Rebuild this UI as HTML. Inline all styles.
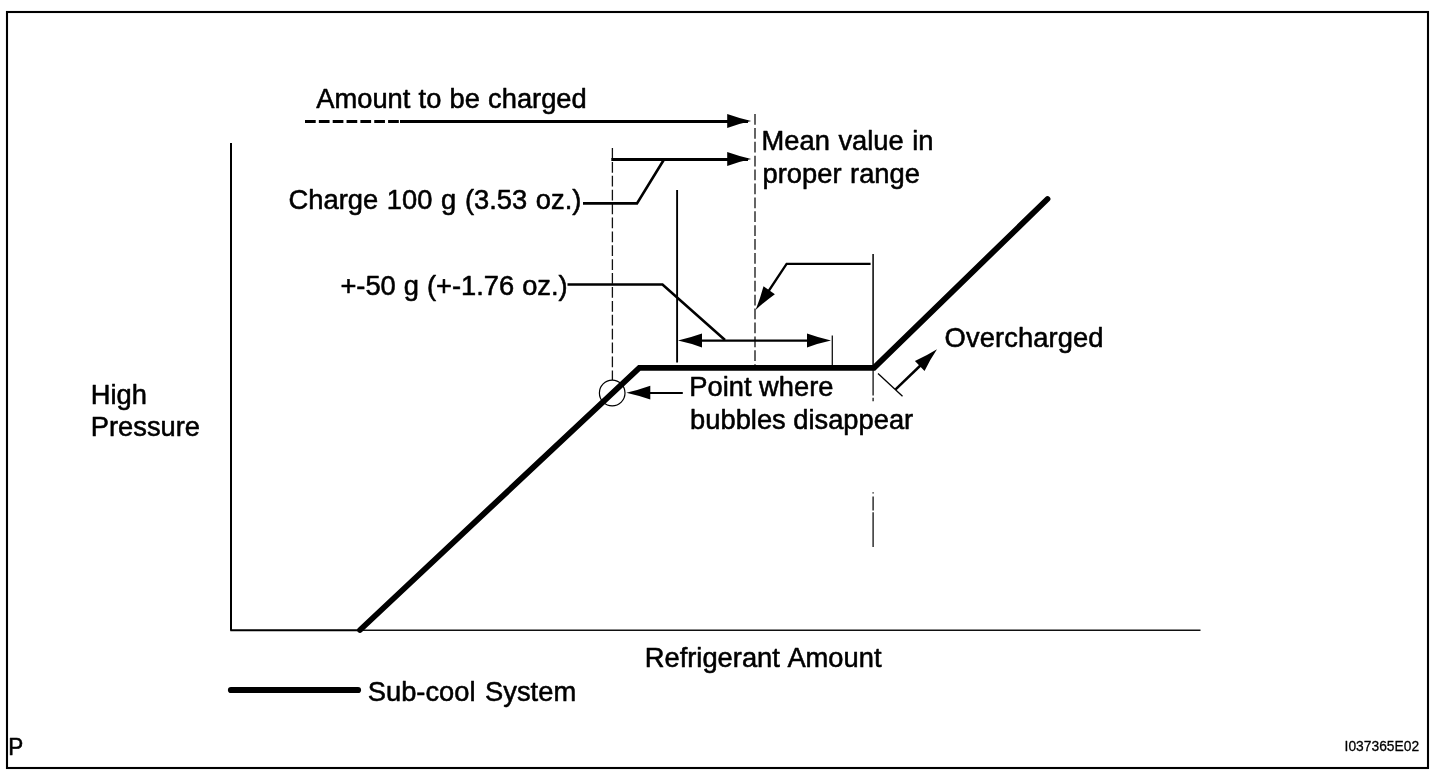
<!DOCTYPE html>
<html lang="en">
<head>
<meta charset="utf-8">
<title>Refrigerant Charge Diagram</title>
<style>
html,body{margin:0;padding:0;background:#fff;}
body{width:1456px;height:776px;overflow:hidden;position:relative;font-family:"Liberation Sans",Arial,sans-serif;}
svg{position:absolute;left:0;top:0;display:block;}
text{font-family:"Liberation Sans",Arial,sans-serif;fill:#000;stroke:#000;stroke-width:0.55px;stroke-linejoin:round;}
.t{font-size:27.3px;}
</style>
</head>
<body>
<svg width="1456" height="776" viewBox="0 0 1456 776">
  <defs>
    <path id="ah" d="M0,0 Q-12,-2.6 -24,-6.9 L-24,6.9 Q-12,2.6 0,0 Z"/>
  </defs>
  <rect x="0" y="0" width="1456" height="776" fill="#fff"/>
  <!-- outer frame -->
  <rect x="7" y="12" width="1421" height="756" fill="none" stroke="#000" stroke-width="2.1"/>

  <!-- axes -->
  <line x1="231" y1="143" x2="231" y2="630.5" stroke="#000" stroke-width="2"/>
  <line x1="230.3" y1="630.2" x2="360" y2="630.2" stroke="#000" stroke-width="2"/>
  <line x1="360" y1="630.2" x2="1200.5" y2="630.2" stroke="#111" stroke-width="1.4"/>

  <!-- vertical reference lines -->
  <g stroke="#111" stroke-width="1.3" fill="none" stroke-dasharray="10.75 3.15">
    <line x1="612.4" y1="148" x2="612.4" y2="380"/>
    <line x1="755" y1="114" x2="755" y2="365"/>
    <line x1="873.1" y1="254" x2="873.1" y2="365.5" stroke-dasharray="none" stroke-width="1.6"/>
    <line x1="873.1" y1="370" x2="873.1" y2="401.3" stroke-dasharray="25.5 2.3 4 3"/>
    <line x1="873.1" y1="492.3" x2="873.1" y2="547" stroke-dasharray="1.2 3 14 1.8 40"/>
  </g>
  <line x1="677.1" y1="190" x2="677.1" y2="362.5" stroke="#000" stroke-width="1.9"/>
  <line x1="832.3" y1="335.4" x2="832.3" y2="365" stroke="#111" stroke-width="1.3"/>

  <!-- amount to be charged arrow -->
  <line x1="305" y1="121.5" x2="401" y2="121.5" stroke="#000" stroke-width="3" stroke-dasharray="10.7 3.15"/>
  <line x1="400" y1="121.5" x2="748" y2="121.5" stroke="#000" stroke-width="3"/>
  <use href="#ah" transform="translate(751.2,121)"/>

  <!-- charge 100 g arrow -->
  <line x1="611.3" y1="159.4" x2="748" y2="159.4" stroke="#000" stroke-width="3"/>
  <use href="#ah" transform="translate(751.2,159)"/>
  <polyline points="583,203.4 637,203.4 664,159.5" fill="none" stroke="#000" stroke-width="2.6"/>

  <!-- +-50 g leader -->
  <polyline points="567.5,284.5 662.5,284.5 725,340" fill="none" stroke="#000" stroke-width="2.6"/>

  <!-- double arrow -->
  <line x1="695" y1="340.6" x2="815" y2="340.6" stroke="#000" stroke-width="2.3"/>
  <use href="#ah" transform="translate(678,340.5) rotate(180)"/>
  <use href="#ah" transform="translate(831,340.5)"/>

  <!-- proper range leader arrow -->
  <polyline points="870.6,263.8 786.6,263.8 764,298" fill="none" stroke="#000" stroke-width="2.3"/>
  <use href="#ah" transform="translate(755.6,310) rotate(124.5)"/>

  <!-- main curve -->
  <polyline points="360,630 639.3,367.8 874,367.8 1047.5,199" fill="none" stroke="#000" stroke-width="5.8" stroke-linecap="round" stroke-linejoin="miter"/>

  <!-- bubble circle and arrow -->
  <circle cx="612.2" cy="393" r="12.8" fill="none" stroke="#000" stroke-width="1.2"/>
  <line x1="682.8" y1="393" x2="645" y2="393" stroke="#000" stroke-width="2"/>
  <use href="#ah" transform="translate(626.3,392.7) rotate(180)"/>

  <!-- overcharged arrow -->
  <line x1="878" y1="373.5" x2="902.5" y2="396.3" stroke="#000" stroke-width="1.3"/>
  <line x1="895.6" y1="389.4" x2="923" y2="363" stroke="#000" stroke-width="2.5"/>
  <use href="#ah" transform="translate(937,349.3) rotate(-44)"/>

  <!-- legend -->
  <line x1="231" y1="690" x2="358" y2="690" stroke="#000" stroke-width="6.2" stroke-linecap="round"/>

  <!-- labels -->
  <text class="t" x="316.3" y="108.1" style="word-spacing:0.6px">Amount to be charged</text>
  <text class="t" x="288.6" y="208.7" style="word-spacing:1.1px">Charge 100 g (3.53 oz.)</text>
  <text class="t" x="340.4" y="294.6" style="word-spacing:0.4px">+-50 g (+-1.76 oz.)</text>
  <text class="t" x="761.6" y="150.1" style="word-spacing:1px">Mean value in</text>
  <text class="t" x="762.6" y="183.3" style="word-spacing:1px">proper range</text>
  <text class="t" x="944.6" y="346.8" style="letter-spacing:0.1px">Overcharged</text>
  <text class="t" x="689.3" y="395.6">Point where</text>
  <text class="t" x="690.1" y="428.7">bubbles disappear</text>
  <text class="t" x="90.8" y="404.3">High</text>
  <text class="t" x="90.8" y="436.1">Pressure</text>
  <text class="t" x="644.8" y="666.8" style="word-spacing:1.5px">Refrigerant Amount</text>
  <text class="t" x="367.8" y="700.6" style="word-spacing:2px">Sub-cool System</text>
  <text transform="translate(8.3,755) scale(0.93,1)" style="font-size:24.2px">P</text>
  <text transform="translate(1344.6,751.2) scale(0.915,1)" style="font-size:15.1px;stroke-width:0.3px">I037365E02</text>
</svg>
</body>
</html>
